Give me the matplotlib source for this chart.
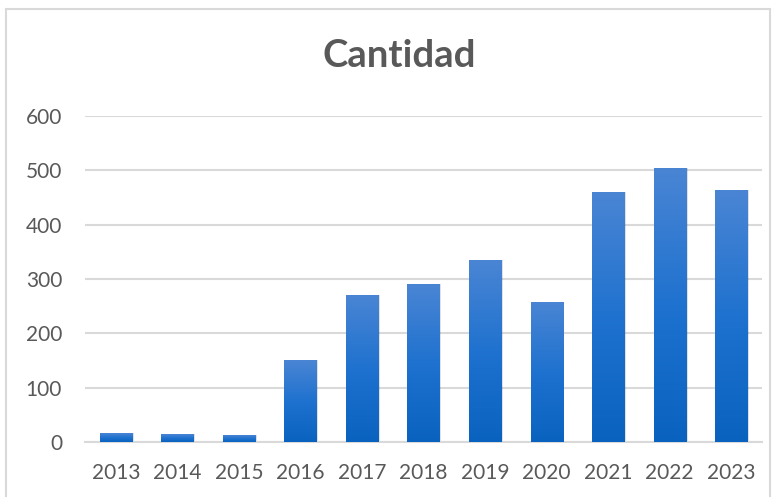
import matplotlib
matplotlib.use("Agg")
import matplotlib.pyplot as plt
import numpy as np
from matplotlib.patches import Rectangle
from matplotlib.colors import LinearSegmentedColormap

years = ["2013", "2014", "2015", "2016", "2017", "2018", "2019", "2020", "2021", "2022", "2023"]
values = [16, 14, 12, 150, 271, 290, 334, 258, 460, 505, 464]
yticks = [0, 100, 200, 300, 400, 500, 600]

plt.rcParams['font.family'] = ['Lato', 'DejaVu Sans']

fig = plt.figure(figsize=(7.8, 4.97), dpi=100)
fig.patches.append(Rectangle((6/780, -0.01), (770-6)/780, 1 - 9/497 + 0.01,
                             transform=fig.transFigure, fill=False,
                             edgecolor="#d9d9d9", linewidth=1.5))
ax = fig.add_axes([85/780, 1 - 441.8/497, (762-85)/780, (441.8-116)/497])

cmap = LinearSegmentedColormap.from_list("g", ["#0a62bf", "#1f72cf", "#4a85d4"])
grad = np.linspace(0, 1, 256).reshape(-1, 1)
x = np.arange(len(years))
w = 0.52
for xi, v in zip(x, values):
    # soft shadow
    ax.add_patch(Rectangle((xi - w/2 + 0.03, 0), w, v, facecolor="#000000", alpha=0.12,
                           edgecolor="none", zorder=2))
    im = ax.imshow(grad, extent=(xi - w/2, xi + w/2, 0, v), origin="lower",
                   cmap=cmap, aspect="auto", zorder=3)
    r = Rectangle((xi - w/2, 0), w, v, transform=ax.transData)
    im.set_clip_path(r)

ax.set_xlim(-0.5, len(years) - 0.5)
ax.set_ylim(0, 600)
ax.set_yticks(yticks)
ax.set_xticks(x)
ax.set_xticklabels(years)
ax.yaxis.grid(True, color="#d9d9d9", linewidth=1.5, zorder=0)
ax.set_axisbelow(True)
for s in ["top", "right", "left"]:
    ax.spines[s].set_visible(False)
ax.spines["bottom"].set_color("#d9d9d9")
ax.spines["bottom"].set_linewidth(1.5)
ax.tick_params(axis="both", length=0, labelsize=15, colors="#595959")
ax.tick_params(axis="x", pad=15)
ax.tick_params(axis="y", pad=16.5)

fig.text(399/780, 1 - 56/497, "Cantidad", ha="center", va="center",
         fontsize=27.5, fontweight="bold", color="#595959")

fig.savefig("out.png", dpi=100)
